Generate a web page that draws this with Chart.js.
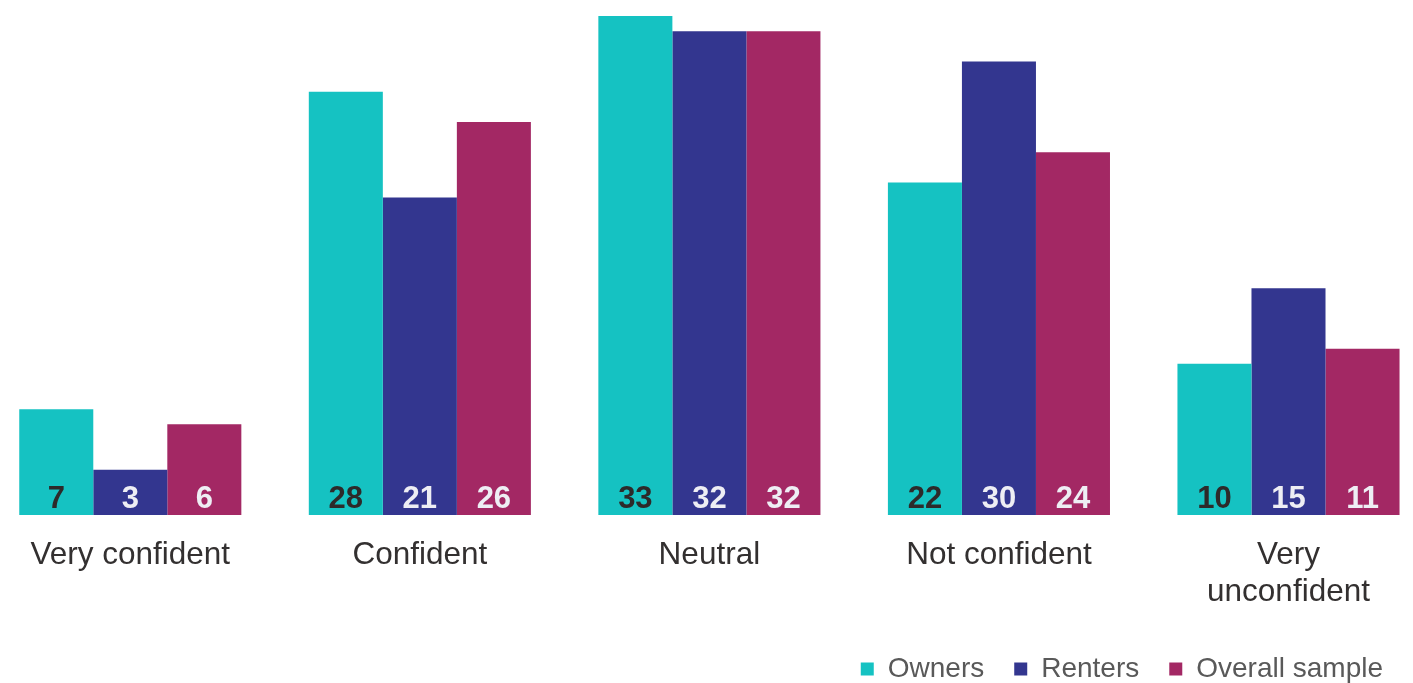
<!DOCTYPE html>
<html>
<head>
<meta charset="utf-8">
<script src="https://cdn.jsdelivr.net/npm/chart.js@4.4.1/dist/chart.umd.min.js"></script>
<style>
    html, body { margin: 0; padding: 0; background: #fff; }
    #wrap { width: 1413px; height: 683px; position: relative; }
</style>
</head>
<body>
<div id="wrap"><canvas id="myChart"></canvas></div>
<script>
    var categories = ["Very confident", "Confident", "Neutral", "Not confident", ["Very", "unconfident"]];
    var owners = [7, 28, 33, 22, 10];
    var renters = [3, 21, 32, 30, 15];
    var overall = [6, 26, 32, 24, 11];
    var seriesNames = ["Owners", "Renters", "Overall sample"];
    var barColors = ["#15c2c2", "#33368f", "#a32864"];
    var labelColors = ["#2d2a2a", "#eeeef4", "#eeeef4"];

    Chart.defaults.font.family = "'Liberation Sans', Arial, sans-serif";

    function toPoints(values) {
        return values.map(function (v, i) { return { x: i, y: v }; });
    }

    // value numbers sit at the foot of each bar
    var barValues = {
        id: "barValues",
        afterDatasetsDraw: function (chart) {
            var ctx = chart.ctx;
            ctx.save();
            ctx.font = "bold 31px 'Liberation Sans', Arial, sans-serif";
            ctx.textAlign = "center";
            ctx.textBaseline = "alphabetic";
            chart.data.datasets.forEach(function (ds, d) {
                var meta = chart.getDatasetMeta(d);
                ctx.fillStyle = labelColors[d];
                meta.data.forEach(function (bar, i) {
                    ctx.fillText(ds.data[i].y, bar.x, bar.base - 7);
                });
            });
            ctx.restore();
        }
    };

    new Chart("myChart", {
        type: "bar",
        data: {
            datasets: [
                { label: seriesNames[0], data: toPoints(owners), backgroundColor: barColors[0] },
                { label: seriesNames[1], data: toPoints(renters), backgroundColor: barColors[1] },
                { label: seriesNames[2], data: toPoints(overall), backgroundColor: barColors[2] }
            ]
        },
        options: {
            responsive: true,
            maintainAspectRatio: false,
            animation: false,
            categoryPercentage: 0.767,
            barPercentage: 1,
            layout: { padding: { top: 1, left: 0, right: 0, bottom: -10 } },
            scales: {
                x: {
                    type: "linear",
                    offset: false,
                    min: -0.45,
                    max: 4.43,
                    grid: { display: false, offset: false },
                    border: { display: false },
                    ticks: {
                        stepSize: 1,
                        includeBounds: false,
                        autoSkip: false,
                        maxRotation: 0,
                        padding: 13,
                        color: "#333030",
                        font: { size: 31.5 },
                        callback: function (v) {
                            return Number.isInteger(v) && categories[v] ? categories[v] : "";
                        }
                    },
                    afterFit: function (scale) { scale.height = 110; }
                },
                y: {
                    display: false,
                    min: 0,
                    max: 34
                }
            },
            plugins: {
                legend: {
                    position: "bottom",
                    align: "end",
                    labels: {
                        boxWidth: 13,
                        boxHeight: 13,
                        padding: 30,
                        color: "#595959",
                        font: { size: 28 }
                    }
                },
                tooltip: { enabled: false }
            }
        },
        plugins: [barValues]
    });
</script>
</body>
</html>
